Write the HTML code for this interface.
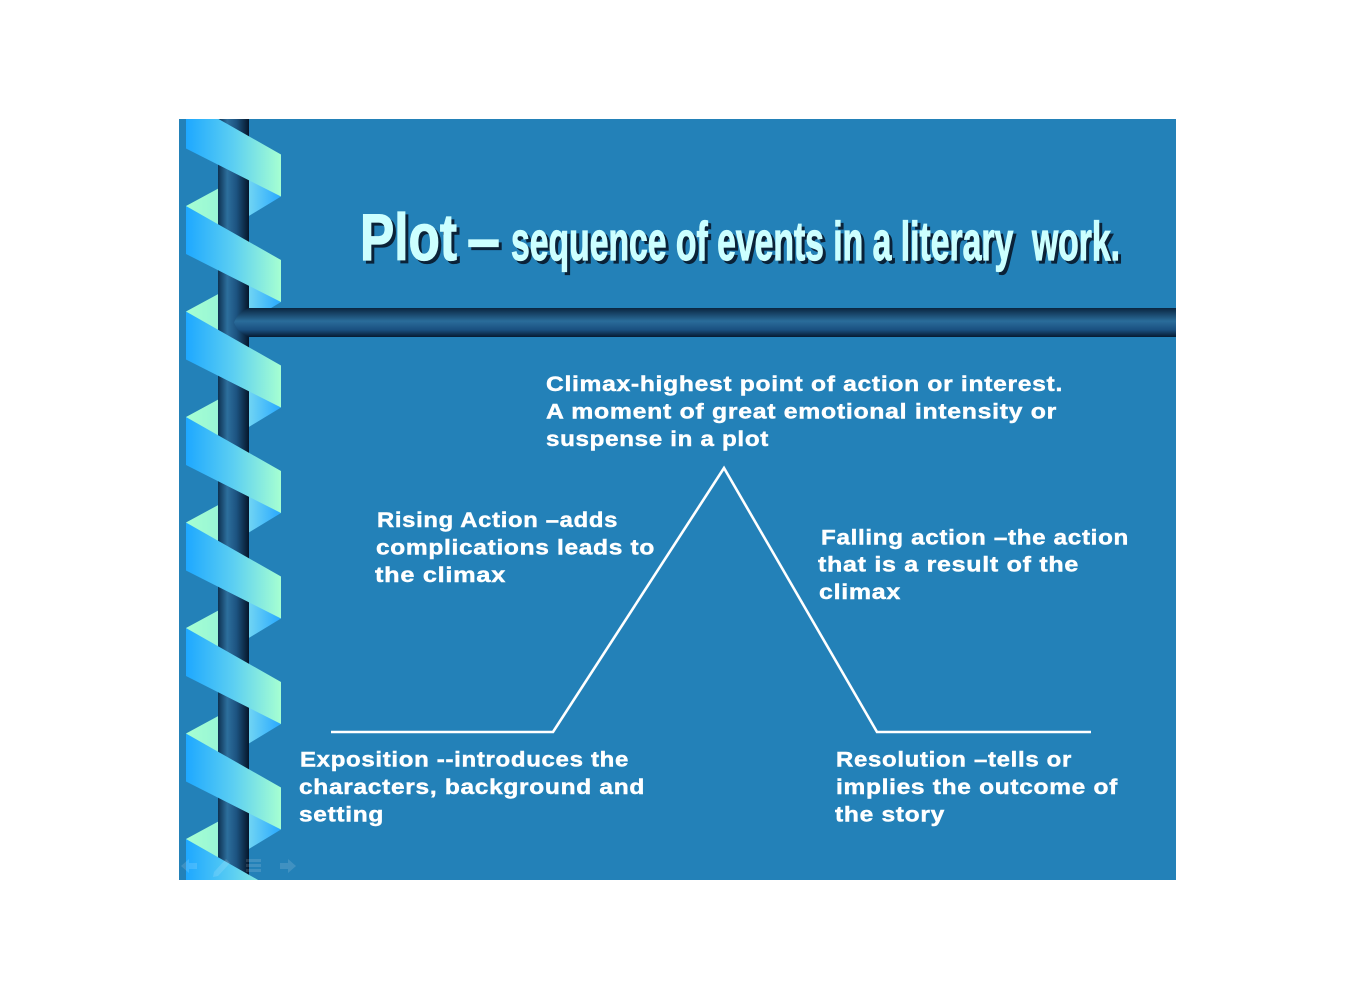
<!DOCTYPE html>
<html>
<head>
<meta charset="utf-8">
<style>
  html, body { margin: 0; padding: 0; background: #ffffff; }
  body { width: 1361px; height: 997px; overflow: hidden; }
  svg { display: block; }
  .t { font-family: "Liberation Sans", Arial, sans-serif; font-weight: bold; font-size: 21px; fill: #ffffff; stroke: #ffffff; stroke-width: 0.45px; letter-spacing: 0.6px; }
  .title { font-family: "Liberation Sans", Arial, sans-serif; font-weight: bold; fill: #ccffff; stroke: #ccffff; stroke-width: 1.2px; white-space: pre; }
  .shadow { font-family: "Liberation Sans", Arial, sans-serif; font-weight: bold; fill: #0b2238; stroke: #0b2238; stroke-width: 1.2px; white-space: pre; }
</style>
</head>
<body>
<svg width="1361" height="997" viewBox="0 0 1361 997" xmlns="http://www.w3.org/2000/svg">
  <defs>
    <clipPath id="slide">
      <rect x="179" y="119" width="997" height="761"/>
    </clipPath>
    <linearGradient id="front" gradientUnits="userSpaceOnUse" x1="186" y1="0" x2="281" y2="0">
      <stop offset="0" stop-color="#1ea8ff"/>
      <stop offset="0.5" stop-color="#5ccff2"/>
      <stop offset="1" stop-color="#a6ffd2"/>
    </linearGradient>
    <linearGradient id="back" gradientUnits="userSpaceOnUse" x1="186" y1="0" x2="281" y2="0">
      <stop offset="0" stop-color="#a6ffd2"/>
      <stop offset="0.35" stop-color="#98f6d6"/>
      <stop offset="0.68" stop-color="#6cd2f4"/>
      <stop offset="1" stop-color="#28a8ff"/>
    </linearGradient>
    <linearGradient id="pole" gradientUnits="userSpaceOnUse" x1="218" y1="0" x2="249" y2="0">
      <stop offset="0" stop-color="#0d3050"/>
      <stop offset="0.3" stop-color="#2d6f9d"/>
      <stop offset="0.6" stop-color="#1c5380"/>
      <stop offset="1" stop-color="#05162a"/>
    </linearGradient>
    <linearGradient id="bar" gradientUnits="userSpaceOnUse" x1="0" y1="308" x2="0" y2="337">
      <stop offset="0" stop-color="#0a2540"/>
      <stop offset="0.45" stop-color="#2a6c9a"/>
      <stop offset="0.75" stop-color="#1a5080"/>
      <stop offset="1" stop-color="#061a30"/>
    </linearGradient>
  </defs>

  <!-- slide background -->
  <rect x="179" y="119" width="997" height="761" fill="#2381b8"/>

  <g clip-path="url(#slide)">
    <!-- back bands (P = left fold y) -->
    <g fill="url(#back)">
      <polygon points="186,100.5 281,49 281,91 186,148.5"/>
      <polygon points="186,206 281,154.5 281,196.5 186,254"/>
      <polygon points="186,311.5 281,260 281,302 186,359.5"/>
      <polygon points="186,417 281,365.5 281,407.5 186,465"/>
      <polygon points="186,522.5 281,471 281,513 186,570.5"/>
      <polygon points="186,628 281,576.5 281,618.5 186,676"/>
      <polygon points="186,733.5 281,682 281,724 186,781.5"/>
      <polygon points="186,839 281,787.5 281,829.5 186,887"/>
    </g>

    <!-- pole -->
    <rect x="218" y="119" width="31" height="761" fill="url(#pole)"/>

    <!-- front bands -->
    <g fill="url(#front)">
      <polygon points="186,100.5 281,154.5 281,196.5 186,148.5"/>
      <polygon points="186,206 281,260 281,302 186,254"/>
      <polygon points="186,311.5 281,365.5 281,407.5 186,359.5"/>
      <polygon points="186,417 281,471 281,513 186,465"/>
      <polygon points="186,522.5 281,576.5 281,618.5 186,570.5"/>
      <polygon points="186,628 281,682 281,724 186,676"/>
      <polygon points="186,733.5 281,787.5 281,829.5 186,781.5"/>
      <polygon points="186,839 281,893 281,935 186,887"/>
    </g>

    <!-- horizontal bar -->
    <path d="M249,308 L1176,308 L1176,337 L249,337 Q238,333 234,322.5 Q238,312 249,308 Z" fill="url(#bar)"/>

    <!-- faint nav icons -->
    <g fill="#ffffff" opacity="0.13">
      <polygon points="181,866 189,859 189,863 197,863 197,869 189,869 189,873"/>
      <polygon points="214,872 226,859 230,863 218,876 213,877"/>
      <rect x="246" y="859" width="15" height="3"/>
      <rect x="246" y="864" width="15" height="3"/>
      <rect x="246" y="869" width="15" height="3"/>
      <polygon points="296,866 288,859 288,863 280,863 280,869 288,869 288,873"/>
    </g>
  </g>

  <!-- Title -->
  <g>
    <text class="shadow" x="363" y="263" font-size="66" textLength="97" lengthAdjust="spacingAndGlyphs">Plot</text>
    <text class="title" x="360" y="260" font-size="66" textLength="97" lengthAdjust="spacingAndGlyphs">Plot</text>
    <text class="shadow" x="470" y="264" font-size="66" textLength="33" lengthAdjust="spacingAndGlyphs">–</text>
    <text class="title" x="467" y="261" font-size="66" textLength="33" lengthAdjust="spacingAndGlyphs">–</text>
    <text class="shadow" x="514" y="263" font-size="55" textLength="609" lengthAdjust="spacingAndGlyphs">sequence of events in a literary  work.</text>
    <text class="title" x="511" y="260" font-size="55" textLength="609" lengthAdjust="spacingAndGlyphs">sequence of events in a literary  work.</text>
  </g>

  <!-- plot line -->
  <polyline points="331,732 553,732 724,468 877,732 1091,732" fill="none" stroke="#ffffff" stroke-width="2.6" stroke-linejoin="miter"/>

  <!-- Climax -->
  <text class="t" x="546" y="391" textLength="517" lengthAdjust="spacingAndGlyphs">Climax-highest point of action or interest.</text>
  <text class="t" x="546" y="418.5" textLength="511" lengthAdjust="spacingAndGlyphs">A moment of great emotional intensity or</text>
  <text class="t" x="546" y="446" textLength="223" lengthAdjust="spacingAndGlyphs">suspense in a plot</text>

  <!-- Rising -->
  <text class="t" x="377" y="527" textLength="241" lengthAdjust="spacingAndGlyphs">Rising Action –adds</text>
  <text class="t" x="376" y="554.5" textLength="279" lengthAdjust="spacingAndGlyphs">complications leads to</text>
  <text class="t" x="375" y="582" textLength="131" lengthAdjust="spacingAndGlyphs">the climax</text>

  <!-- Falling -->
  <text class="t" x="821" y="544.5" textLength="308" lengthAdjust="spacingAndGlyphs">Falling action –the action</text>
  <text class="t" x="818" y="571.5" textLength="261" lengthAdjust="spacingAndGlyphs">that is a result of the</text>
  <text class="t" x="819" y="599" textLength="82" lengthAdjust="spacingAndGlyphs">climax</text>

  <!-- Exposition -->
  <text class="t" x="300" y="766.5" textLength="329" lengthAdjust="spacingAndGlyphs">Exposition --introduces the</text>
  <text class="t" x="299" y="794" textLength="346" lengthAdjust="spacingAndGlyphs">characters, background and</text>
  <text class="t" x="299" y="821.5" textLength="85" lengthAdjust="spacingAndGlyphs">setting</text>

  <!-- Resolution -->
  <text class="t" x="836" y="766.5" textLength="236" lengthAdjust="spacingAndGlyphs">Resolution –tells or</text>
  <text class="t" x="836" y="794" textLength="282" lengthAdjust="spacingAndGlyphs">implies the outcome of</text>
  <text class="t" x="835" y="821.5" textLength="110" lengthAdjust="spacingAndGlyphs">the story</text>
</svg>
</body>
</html>
